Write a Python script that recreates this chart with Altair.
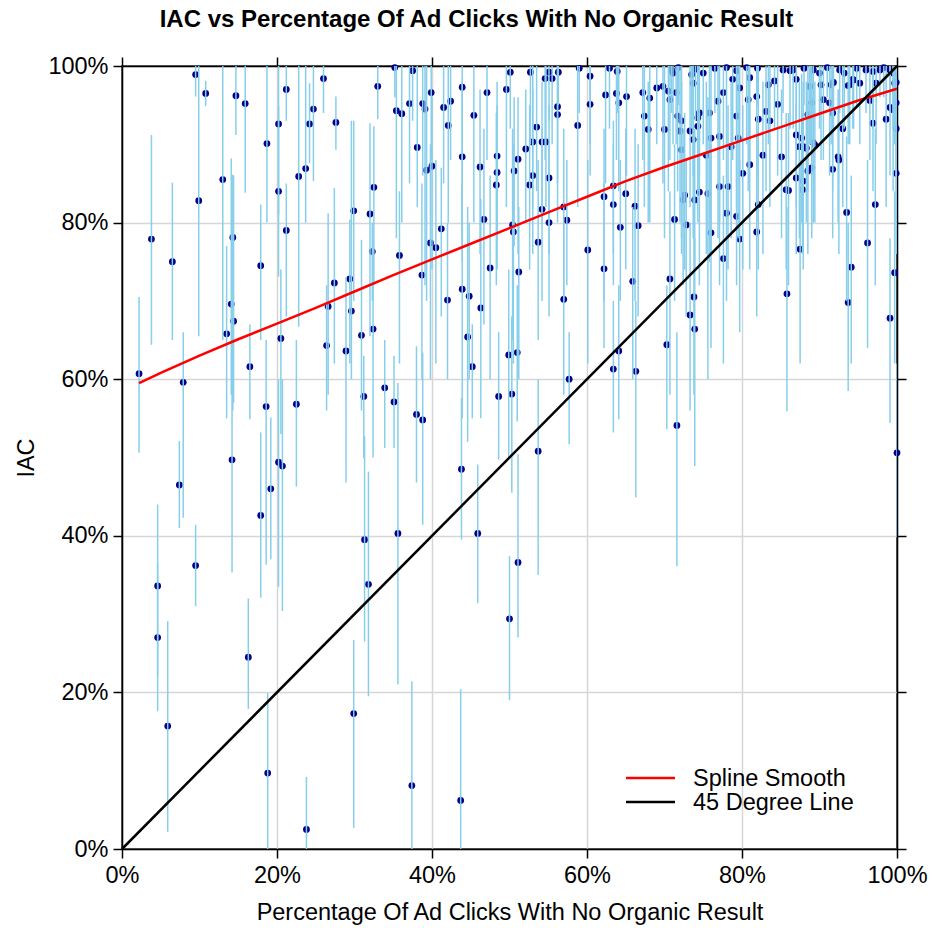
import altair as alt
import pandas as pd

# ---- data (percent) ----
left_x = [2.2, 3.8, 4.6, 4.6, 5.9, 6.5, 7.4, 7.9, 9.5, 9.5,
          9.9, 10.8, 13.0, 13.5, 14.1, 14.2, 14.3, 14.4, 14.7, 15.9,
          16.3, 16.5, 17.9, 17.9, 18.6, 18.7, 18.8, 19.2, 20.2, 20.2,
          20.2, 20.5, 20.7, 21.2, 21.2, 22.5, 22.8, 23.7, 23.8, 24.2,
          24.7, 26.0, 26.4, 26.6, 27.4, 27.6, 28.9, 29.4, 29.6, 29.9,
          29.9, 30.9, 31.2, 31.3, 31.8, 32.0, 32.3, 32.4, 32.5, 33.0,
          33.9]
left_y = [60.7, 77.9, 33.6, 27.0, 15.7, 75.0, 46.5, 59.6, 98.9, 36.2,
          82.8, 96.5, 85.5, 65.8, 69.6, 49.7, 78.1, 67.4, 96.2, 95.2,
          24.5, 61.6, 74.5, 42.6, 56.5, 90.1, 9.7, 46.0, 92.6, 84.0,
          49.4, 65.2, 48.9, 97.0, 79.0, 56.8, 85.9, 86.9, 2.5, 92.6,
          94.5, 98.4, 64.3, 69.3, 72.3, 92.8, 63.6, 72.8, 68.7, 81.5,
          17.3, 65.6, 57.8, 39.5, 33.8, 81.1, 76.3, 66.4, 84.5, 97.4,
          58.9]
left_lo = [50.6, 64.4, 22.0, 17.6, 2.2, 65.0, 41.0, 42.3, 96.1, 31.0,
           65.5, 94.9, 65.0, 55.0, 58.0, 35.3, 56.0, 57.0, 91.2, 83.8,
           17.9, 54.9, 65.0, 32.1, 36.3, 80.0, 0, 37.0, 81.0, 73.1,
           33.5, 53.0, 30.4, 93.0, 68.0, 46.3, 66.7, 80.0, 0, 87.6,
           85.3, 94.0, 56.0, 58.0, 62.0, 89.3, 46.8, 62.0, 60.0, 70.0,
           2.7, 56.0, 49.9, 26.5, 19.5, 65.5, 70.0, 50.0, 72.0, 93.2,
           51.2]
left_hi = [70.5, 91.2, 44.0, 36.5, 29.1, 85.1, 52.1, 66.0, 100, 41.4,
           100, 98.1, 100, 77.0, 88.2, 65.0, 86.1, 86.0, 100, 100,
           32.0, 67.0, 82.3, 53.2, 65.0, 100, 19.9, 55.1, 100, 94.9,
           60.0, 74.0, 60.0, 100, 85.0, 65.0, 100, 100, 9.2, 97.8,
           100, 100, 72.0, 81.2, 84.4, 96.1, 73.0, 80.4, 93.0, 93.0,
           26.7, 77.8, 63.0, 52.7, 48.2, 92.7, 80.0, 78.0, 92.3, 100,
           65.0]

mid_x = [35.1, 35.2, 35.4, 35.6, 35.8, 36.1, 37.1, 37.4, 37.5, 38.0,
         38.1, 38.7, 38.8, 38.8, 39.1, 39.3, 39.8, 39.9, 40.0, 40.5,
         41.2, 41.5, 42.0, 42.1, 42.4, 43.7, 43.8, 43.9, 43.9, 43.9,
         44.6, 44.8, 45.2, 45.4, 45.9, 46.2, 46.3, 46.7, 47.1, 47.5,
         48.3, 48.4, 48.4, 48.6, 49.6, 49.9, 50.0, 50.1, 50.3, 50.4,
         50.5, 50.6, 51.0, 51.1, 51.1, 51.2, 52.1, 52.6, 52.7, 53.0,
         53.0, 53.5, 53.7, 53.7, 54.2, 54.2, 54.6, 54.7, 55.1, 55.1,
         55.1, 55.5, 56.2, 56.2, 56.3, 57.0, 57.0, 57.4, 57.7, 58.8,
         59.0, 60.1, 60.4, 60.4, 62.2, 62.2, 62.4, 62.9, 63.4, 63.4,
         63.4, 63.8, 63.9, 64.1, 64.1, 64.3, 65.0, 65.1, 65.9, 66.2,
         66.3, 66.6]
mid_y = [57.1, 99.8, 94.3, 40.3, 75.8, 93.9, 95.2, 8.1, 99.4, 55.5,
         89.6, 73.3, 95.2, 54.8, 94.5, 86.7, 77.4, 96.6, 87.2, 76.8,
         79.2, 94.7, 70.1, 92.4, 95.5, 6.2, 48.5, 97.3, 88.4, 71.5,
         65.4, 70.6, 61.6, 93.7, 40.3, 87.1, 69.1, 80.4, 96.6, 74.2,
         84.8, 88.5, 86.4, 57.8, 97.0, 63.1, 29.4, 99.2, 58.1, 79.7,
         78.8, 86.6, 63.4, 88.1, 36.6, 73.7, 89.4, 84.8, 99.2, 90.3,
         86.0, 92.2, 77.5, 50.8, 90.3, 81.7, 98.4, 90.3, 85.7, 80.0,
         99.2, 98.4, 94.8, 93.8, 99.2, 82.0, 70.2, 80.3, 60.0, 92.4,
         99.7, 76.5, 98.7, 95.1, 83.3, 74.1, 96.3, 99.7, 82.3, 84.7,
         61.3, 96.5, 99.3, 95.3, 63.6, 79.4, 83.7, 96.1, 72.5, 82.1,
         61.0, 79.6]
mid_lo = [51.2, 96, 78, 21.0, 62, 80, 85, 0, 93, 46.8,
          82, 60, 86, 41.4, 72, 70, 60, 88, 74, 62,
          68, 85, 60, 80, 88, 0, 39.5, 78, 75, 55,
          52, 60, 55.0, 80, 31.4, 76, 55, 67, 88, 60,
          72, 78, 74, 49.7, 82, 50, 19.0, 92, 45.5, 65,
          62, 77, 54.6, 76, 27, 60, 80, 74, 90, 82,
          76, 84, 65, 35.0, 80, 70, 88, 82, 76, 68,
          93, 90, 85, 80, 95, 70, 58, 72, 51.7, 82,
          94, 62, 90, 86, 70, 64, 85, 92, 72, 76,
          53.2, 88, 94, 84, 54.9, 70, 74, 86, 60, 70,
          44.9, 68]
mid_hi = [63.0, 100, 100, 59.5, 84, 100, 100, 21.4, 100, 64.2,
          100, 85, 100, 63.4, 100, 100, 90, 100, 96, 88,
          87, 100, 80, 100, 100, 20.4, 57.6, 100, 98, 85,
          82, 80, 67.0, 100, 49.1, 97, 83, 92, 100, 86,
          94, 98, 95, 66.0, 100, 74, 37.4, 100, 68, 92,
          90, 96, 72, 96, 50.4, 82, 97, 95, 100, 100,
          97, 100, 88, 60, 98, 92, 100, 100, 95, 90,
          100, 100, 100, 100, 100, 92, 80, 88, 66, 100,
          100, 88, 100, 100, 92, 85, 100, 100, 90, 93,
          70, 100, 100, 100, 72, 88, 92, 100, 82, 92,
          70, 90]

right_x = [67.2, 68.1, 69.0, 69.8, 70.5, 70.7, 67.4, 67.9, 70.0, 71.5,
           71.7, 72.0, 72.2, 73.3, 73.7, 74.3, 74.3, 74.5, 75.8, 76.0,
           77.1, 76.9, 77.6, 78.8, 79.7, 79.3, 79.5, 75.0, 73.7, 73.5,
           71.1, 70.9, 78.0, 80.6, 81.0, 80.8, 81.9, 82.1, 83.1, 83.4,
           83.6, 84.2, 84.6, 85.3, 86.6, 87.0, 88.5, 89.0, 88.7, 89.2,
           90.0, 90.2, 91.5, 91.3, 90.5, 91.7, 92.6, 93.2, 93.9, 94.3,
           95.2, 96.0, 96.9, 97.3, 97.8, 99.1, 99.5, 99.7, 99.9, 99.5,
           71.3, 72.8, 72.4, 72.6, 73.9, 74.5, 75.6, 77.1, 78.2, 78.0,
           79.3, 76.0, 79.7, 81.9, 82.1, 85.7, 87.8, 87.0, 87.9, 89.0,
           91.7, 92.5, 92.4, 99.9, 97.2, 93.5, 96.2, 87.5, 94.1, 99.7,
           77.6, 70.7, 85.8, 73.8, 73.3, 73.9, 93.7, 99.1, 70.3, 71.6,
           100, 75.4, 72.2, 78.6, 82.7, 85.1, 81.0, 80.1, 87.0, 87.7,
           87.4, 88.3, 89.2, 93.0, 96.9, 98.6, 99.9, 88.8, 88.5, 87.9,
           89.4, 86.0, 93.7, 94.4, 91.8, 96.5, 99.1, 99.9, 71.8, 74.0,
           76.5, 79.3, 82.0, 86.2, 88.0, 91.0, 94.8, 98.3]
right_y = [96.6, 95.9, 97.2, 97.4, 96.8, 95.7, 93.6, 91.9, 91.9, 96.6,
           93.6, 91.7, 93.0, 91.7, 90.6, 93.4, 92.3, 94.0, 94.0, 90.8,
           91.0, 95.5, 96.6, 98.3, 97.2, 93.6, 90.8, 99.1, 97.8, 98.9,
           99.1, 99.5, 99.8, 99.8, 98.5, 95.7, 96.1, 93.2, 94.2, 97.6,
           93.0, 98.1, 95.1, 99.5, 99.5, 98.3, 93.8, 95.3, 97.4, 99.5,
           99.1, 97.6, 97.6, 95.3, 95.7, 94.0, 99.5, 99.1, 97.6, 98.3,
           97.8, 99.5, 99.3, 97.8, 99.5, 99.5, 99.1, 97.8, 95.3, 94.4,
           80.4, 79.7, 82.9, 83.5, 82.9, 83.9, 83.7, 84.6, 84.6, 81.2,
           80.8, 78.7, 77.9, 78.8, 82.3, 84.2, 84.2, 85.7, 85.3, 87.0,
           86.8, 88.0, 88.4, 86.3, 82.3, 81.3, 77.4, 76.6, 74.3, 73.6,
           75.4, 72.8, 70.9, 70.5, 68.2, 66.4, 69.8, 67.8, 64.4, 54.1,
           50.6, 88.6, 89.3, 89.7, 88.6, 88.4, 87.4, 86.3, 91.2, 90.8,
           89.7, 89.5, 90.2, 92.0, 92.7, 93.2, 92.0, 97.4, 86.6, 89.7,
           89.9, 84.1, 97.5, 98.2, 97.9, 95.6, 94.7, 97.9, 99.8, 99.6,
           99.7, 99.4, 99.7, 99.4, 99.7, 99.8, 99.7, 99.8]
right_lo = [88, 80, 90, 85, 84, 88, 82, 80, 78, 90,
            84, 80, 76, 82, 78, 80, 84, 86, 75, 76,
            80, 78, 88, 88, 86, 82, 78, 90, 86, 92,
            90, 94, 92, 90, 88, 84, 86, 80, 84, 90,
            82, 92, 86, 94, 92, 90, 84, 86, 90, 94,
            92, 88, 90, 86, 88, 84, 94, 92, 90, 92,
            90, 94, 92, 90, 96, 94, 92, 90, 86, 84,
            70, 68, 72, 74, 74, 72, 60, 72, 74, 70,
            72, 64, 66, 68, 74, 74, 76, 76, 74, 78,
            78, 76, 80, 76, 72, 70, 64, 62, 62, 62,
            62, 58, 55.9, 58, 56, 48.9, 58.5, 54.4, 53.6, 36.1,
            40, 76, 78, 78, 76, 78, 74, 74, 82, 80,
            78, 80, 80, 82, 84, 82, 80, 90, 76, 80,
            80, 72, 90, 92, 92, 88, 86, 92, 95, 93,
            94, 93, 95, 92, 95, 96, 95, 96]
right_hi = [100, 100, 100, 100, 100, 100, 100, 98, 100, 100,
            100, 100, 100, 100, 100, 100, 100, 100, 100, 100,
            100, 100, 100, 100, 100, 100, 100, 100, 100, 100,
            100, 100, 100, 100, 100, 100, 100, 100, 100, 100,
            100, 100, 100, 100, 100, 100, 100, 100, 100, 100,
            100, 100, 100, 100, 100, 100, 100, 100, 100, 100,
            100, 100, 100, 100, 100, 100, 100, 100, 100, 100,
            90, 88, 92, 94, 92, 94, 96, 96, 95, 92,
            90, 90, 88, 90, 92, 94, 94, 95, 95, 96,
            96, 97, 97, 96, 92, 91, 88, 88, 86, 84,
            86, 84, 82, 82, 80, 78, 80, 78, 72, 66,
            62, 98, 98, 98, 98, 97, 96, 95, 99, 99,
            98, 98, 99, 100, 100, 100, 100, 100, 95, 98,
            98, 94, 100, 100, 100, 100, 100, 100, 100, 100,
            100, 100, 100, 100, 100, 100, 100, 100]

spline_x = [2.2, 5, 10, 15, 20, 25, 30, 35, 40, 45, 50,
            55, 60, 65, 70, 75, 80, 85, 90, 95, 100]
spline_y = [59.5, 60.8, 63.0, 65.1, 67.1, 69.1, 71.2, 73.3, 75.3, 77.3, 79.3,
            81.3, 83.3, 85.3, 87.1, 88.8, 90.5, 92.2, 93.9, 95.6, 97.1]

diag_x = [0, 100]
diag_y = [0, 100]

tick_values = [0, 20, 40, 60, 80, 100]
legend_labels = ["Spline Smooth", "45 Degree Line"]

# ---- frames ----
pts = pd.DataFrame({
    "share": left_x + mid_x + right_x,
    "iac": left_y + mid_y + right_y,
    "lo": left_lo + mid_lo + right_lo,
    "hi": left_hi + mid_hi + right_hi,
})
spline_df = pd.DataFrame({"share": spline_x, "iac": spline_y})
diag_df = pd.DataFrame({"share": diag_x, "iac": diag_y})

FONT = "Liberation Sans"
FS = 23.5
pct = "datum.value + '%'"
sx = alt.Scale(domain=[0, 100], nice=False, zero=False)
sy = alt.Scale(domain=[0, 100], nice=False, zero=False)

common = dict(values=tick_values, tickSize=9, tickWidth=1.5, tickColor="black",
              domainColor="black", domainWidth=1.5, labelFont=FONT,
              labelFontSize=FS, labelColor="black", titleFont=FONT,
              titleFontSize=FS, titleFontWeight="normal", titleColor="black",
              labelFlush=False, labelOverlap=False)

x_bottom = alt.Axis(orient="bottom", labelExpr=pct, grid=True, gridColor="#d6d6d6",
                    gridWidth=1.5, labelPadding=5,
                    title="Percentage Of Ad Clicks With No Organic Result",
                    titlePadding=14, **common)
y_left = alt.Axis(orient="left", labelExpr=pct, grid=True, gridColor="#d6d6d6",
                  gridWidth=1.5, labelPadding=5, title="IAC", titlePadding=9,
                  **common)
x_top = alt.Axis(orient="top", labels=False, grid=False, title="", **common)
y_right = alt.Axis(orient="right", labels=False, grid=False, title="", **common)

points = alt.Chart(pts).mark_circle(color="#00008B", size=46, opacity=1).encode(
    x=alt.X("share:Q", scale=sx, axis=None),
    y=alt.Y("iac:Q", scale=sy, axis=None),
)

bars = alt.Chart(pts).mark_rule(color="#87CEEB", strokeWidth=1.5, clip=True).encode(
    x=alt.X("share:Q", scale=sx, axis=x_bottom),
    y=alt.Y("lo:Q", scale=sy, axis=y_left),
    y2="hi:Q",
)

spline = alt.Chart(spline_df).mark_line(color="#FF0000", strokeWidth=2.5).encode(
    x=alt.X("share:Q", scale=sx, axis=None),
    y=alt.Y("iac:Q", scale=sy, axis=None),
)

diag = alt.Chart(diag_df).mark_line(color="black", strokeWidth=2.5).encode(
    x=alt.X("share:Q", scale=sx, axis=x_top),
    y=alt.Y("iac:Q", scale=sy, axis=y_right),
)

leg_red_df = pd.DataFrame({"label": [legend_labels[0]]})
leg_blk_df = pd.DataFrame({"label": [legend_labels[1]]})

leg_red_line = alt.Chart(leg_red_df).mark_rule(color="#FF0000", strokeWidth=2.5).encode(
    x=alt.value(504), x2=alt.value(553), y=alt.value(712))
leg_blk_line = alt.Chart(leg_blk_df).mark_rule(color="black", strokeWidth=2.5).encode(
    x=alt.value(504), x2=alt.value(553), y=alt.value(736))
leg_red_text = alt.Chart(leg_red_df).mark_text(
    align="left", baseline="middle", font=FONT, fontSize=FS, color="black").encode(
    x=alt.value(571), y=alt.value(713), text="label:N")
leg_blk_text = alt.Chart(leg_blk_df).mark_text(
    align="left", baseline="middle", font=FONT, fontSize=FS, color="black").encode(
    x=alt.value(571), y=alt.value(737), text="label:N")

chart = alt.layer(
    points, bars, spline, diag,
    leg_red_line, leg_blk_line, leg_red_text, leg_blk_text,
).resolve_axis(x="independent", y="independent").properties(
    width=775,
    height=783,
    title=alt.TitleParams(
        text="IAC vs Percentage Of Ad Clicks With No Organic Result",
        font=FONT, fontSize=24, fontWeight="bold", color="black",
        anchor="middle", dx=-33, offset=22),
    autosize=alt.AutoSizeParams(type="none"),
    padding={"left": 122, "top": 66, "right": 36, "bottom": 79},
).configure_view(stroke="black", strokeWidth=1.5)

chart.save("out.html", embed_options={"renderer": "svg", "actions": False})
